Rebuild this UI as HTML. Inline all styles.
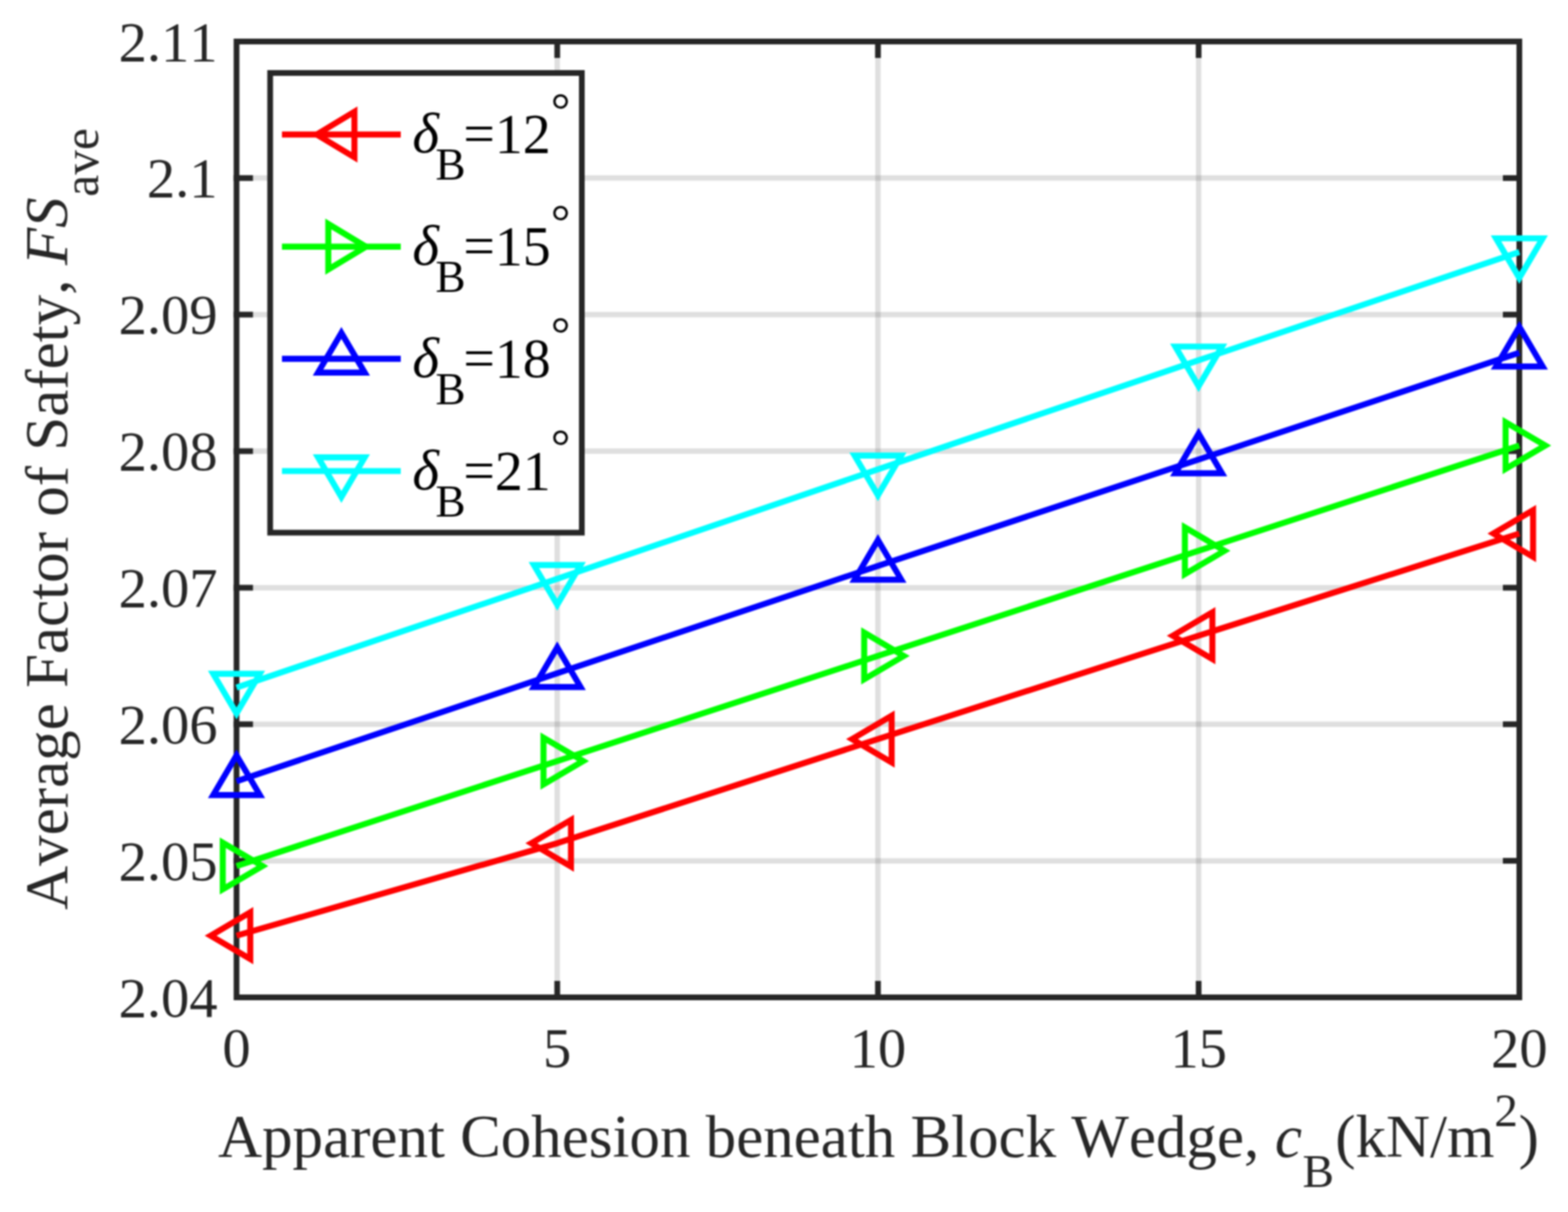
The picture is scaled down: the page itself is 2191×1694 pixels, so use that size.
<!DOCTYPE html>
<html><head><meta charset="utf-8"><title>Average Factor of Safety vs Apparent Cohesion</title><style>html,body{margin:0;padding:0;background:#fff;overflow:hidden;}svg{display:block;} text{font-kerning:none;}</style></head><body>
<svg width="2191" height="1694" viewBox="0 0 2191 1694">
<defs><filter id="soft" x="-2%" y="-2%" width="104%" height="104%" color-interpolation-filters="sRGB"><feGaussianBlur stdDeviation="1.2"/></filter></defs>
<rect width="2191" height="1694" fill="#ffffff"/>
<g filter="url(#soft)">
<g stroke="#262626" stroke-opacity="0.15" stroke-width="7.5"><line x1="778.62" y1="58.00" x2="778.62" y2="1394.00"/><line x1="1226.75" y1="58.00" x2="1226.75" y2="1394.00"/><line x1="1674.88" y1="58.00" x2="1674.88" y2="1394.00"/><line x1="330.50" y1="1203.14" x2="2123.00" y2="1203.14"/><line x1="330.50" y1="1012.29" x2="2123.00" y2="1012.29"/><line x1="330.50" y1="821.43" x2="2123.00" y2="821.43"/><line x1="330.50" y1="630.57" x2="2123.00" y2="630.57"/><line x1="330.50" y1="439.71" x2="2123.00" y2="439.71"/><line x1="330.50" y1="248.86" x2="2123.00" y2="248.86"/></g>
<g stroke="#262626" stroke-width="8.0" stroke-linecap="square"><rect x="330.50" y="58.00" width="1792.50" height="1336.00" fill="none"/><line x1="778.62" y1="1394.00" x2="778.62" y2="1375.00"/><line x1="778.62" y1="58.00" x2="778.62" y2="77.00"/><line x1="1226.75" y1="1394.00" x2="1226.75" y2="1375.00"/><line x1="1226.75" y1="58.00" x2="1226.75" y2="77.00"/><line x1="1674.88" y1="1394.00" x2="1674.88" y2="1375.00"/><line x1="1674.88" y1="58.00" x2="1674.88" y2="77.00"/><line x1="330.50" y1="1203.14" x2="349.50" y2="1203.14"/><line x1="2123.00" y1="1203.14" x2="2104.00" y2="1203.14"/><line x1="330.50" y1="1012.29" x2="349.50" y2="1012.29"/><line x1="2123.00" y1="1012.29" x2="2104.00" y2="1012.29"/><line x1="330.50" y1="821.43" x2="349.50" y2="821.43"/><line x1="2123.00" y1="821.43" x2="2104.00" y2="821.43"/><line x1="330.50" y1="630.57" x2="349.50" y2="630.57"/><line x1="2123.00" y1="630.57" x2="2104.00" y2="630.57"/><line x1="330.50" y1="439.71" x2="349.50" y2="439.71"/><line x1="2123.00" y1="439.71" x2="2104.00" y2="439.71"/><line x1="330.50" y1="248.86" x2="349.50" y2="248.86"/><line x1="2123.00" y1="248.86" x2="2104.00" y2="248.86"/></g>
<polyline points="330.50,1307.80 778.62,1178.60 1226.75,1033.00 1674.88,888.50 2123.00,745.70" fill="none" stroke="#ff0000" stroke-width="8.4" stroke-linejoin="round"/>
<polygon points="294.30,1307.80 349.70,1275.20 349.70,1340.40" fill="none" stroke="#ff0000" stroke-width="8.4" stroke-linejoin="miter"/>
<polygon points="742.42,1178.60 797.83,1146.00 797.83,1211.20" fill="none" stroke="#ff0000" stroke-width="8.4" stroke-linejoin="miter"/>
<polygon points="1190.55,1033.00 1245.95,1000.40 1245.95,1065.60" fill="none" stroke="#ff0000" stroke-width="8.4" stroke-linejoin="miter"/>
<polygon points="1638.67,888.50 1694.08,855.90 1694.08,921.10" fill="none" stroke="#ff0000" stroke-width="8.4" stroke-linejoin="miter"/>
<polygon points="2086.80,745.70 2142.20,713.10 2142.20,778.30" fill="none" stroke="#ff0000" stroke-width="8.4" stroke-linejoin="miter"/>
<polyline points="330.50,1210.40 778.62,1063.70 1226.75,916.80 1674.88,769.80 2123.00,622.70" fill="none" stroke="#00ff00" stroke-width="8.4" stroke-linejoin="round"/>
<polygon points="366.70,1210.40 311.30,1177.80 311.30,1243.00" fill="none" stroke="#00ff00" stroke-width="8.4" stroke-linejoin="miter"/>
<polygon points="814.83,1063.70 759.42,1031.10 759.42,1096.30" fill="none" stroke="#00ff00" stroke-width="8.4" stroke-linejoin="miter"/>
<polygon points="1262.95,916.80 1207.55,884.20 1207.55,949.40" fill="none" stroke="#00ff00" stroke-width="8.4" stroke-linejoin="miter"/>
<polygon points="1711.08,769.80 1655.67,737.20 1655.67,802.40" fill="none" stroke="#00ff00" stroke-width="8.4" stroke-linejoin="miter"/>
<polygon points="2159.20,622.70 2103.80,590.10 2103.80,655.30" fill="none" stroke="#00ff00" stroke-width="8.4" stroke-linejoin="miter"/>
<polyline points="330.50,1092.00 778.62,941.00 1226.75,791.00 1674.88,642.30 2123.00,493.00" fill="none" stroke="#0000ff" stroke-width="8.4" stroke-linejoin="round"/>
<polygon points="330.50,1055.80 297.90,1111.20 363.10,1111.20" fill="none" stroke="#0000ff" stroke-width="8.4" stroke-linejoin="miter"/>
<polygon points="778.62,904.80 746.02,960.20 811.23,960.20" fill="none" stroke="#0000ff" stroke-width="8.4" stroke-linejoin="miter"/>
<polygon points="1226.75,754.80 1194.15,810.20 1259.35,810.20" fill="none" stroke="#0000ff" stroke-width="8.4" stroke-linejoin="miter"/>
<polygon points="1674.88,606.10 1642.28,661.50 1707.47,661.50" fill="none" stroke="#0000ff" stroke-width="8.4" stroke-linejoin="miter"/>
<polygon points="2123.00,456.80 2090.40,512.20 2155.60,512.20" fill="none" stroke="#0000ff" stroke-width="8.4" stroke-linejoin="miter"/>
<polyline points="330.50,961.00 778.62,809.00 1226.75,656.00 1674.88,503.60 2123.00,352.30" fill="none" stroke="#00ffff" stroke-width="8.4" stroke-linejoin="round"/>
<polygon points="330.50,997.20 297.90,941.80 363.10,941.80" fill="none" stroke="#00ffff" stroke-width="8.4" stroke-linejoin="miter"/>
<polygon points="778.62,845.20 746.02,789.80 811.23,789.80" fill="none" stroke="#00ffff" stroke-width="8.4" stroke-linejoin="miter"/>
<polygon points="1226.75,692.20 1194.15,636.80 1259.35,636.80" fill="none" stroke="#00ffff" stroke-width="8.4" stroke-linejoin="miter"/>
<polygon points="1674.88,539.80 1642.28,484.40 1707.47,484.40" fill="none" stroke="#00ffff" stroke-width="8.4" stroke-linejoin="miter"/>
<polygon points="2123.00,388.50 2090.40,333.10 2155.60,333.10" fill="none" stroke="#00ffff" stroke-width="8.4" stroke-linejoin="miter"/>
<g font-family="'Liberation Serif', 'Times New Roman', serif" font-size="79" fill="#262626">
<text x="304" y="1420.50" text-anchor="end">2.04</text>
<text x="304" y="1229.64" text-anchor="end">2.05</text>
<text x="304" y="1038.79" text-anchor="end">2.06</text>
<text x="304" y="847.93" text-anchor="end">2.07</text>
<text x="304" y="657.07" text-anchor="end">2.08</text>
<text x="304" y="466.21" text-anchor="end">2.09</text>
<text x="304" y="275.36" text-anchor="end">2.1</text>
<text x="304" y="84.50" text-anchor="end">2.11</text>
<text x="330.50" y="1490.5" text-anchor="middle">0</text>
<text x="778.62" y="1490.5" text-anchor="middle">5</text>
<text x="1226.75" y="1490.5" text-anchor="middle">10</text>
<text x="1674.88" y="1490.5" text-anchor="middle">15</text>
<text x="2123.00" y="1490.5" text-anchor="middle">20</text>
</g>
<text y="1617" font-family="'Liberation Serif', 'Times New Roman', serif" font-size="85.2" fill="#262626"><tspan x="304.7">Apparent Cohesion beneath Block Wedge,</tspan><tspan x="1781.4" font-style="italic">c</tspan><tspan x="1820.1" y="1658.5" font-size="66">B</tspan><tspan x="1865.8" y="1617">(kN/m</tspan><tspan x="2088.1" y="1573.5" font-size="66">2</tspan><tspan x="2121.9" y="1617">)</tspan></text>
<text transform="translate(94.0,0) rotate(-90)" y="0" font-family="'Liberation Serif', 'Times New Roman', serif" font-size="85.3" fill="#262626"><tspan x="-1271.8">Average Factor of Safety,</tspan><tspan x="-370.5" font-style="italic">FS</tspan><tspan x="-274.9" y="43" font-size="69">ave</tspan></text>
<rect x="377.50" y="102.00" width="435.50" height="642.50" fill="#ffffff" stroke="#262626" stroke-width="8.0"/>
<line x1="394" y1="188.00" x2="560" y2="188.00" stroke="#ff0000" stroke-width="8.4"/>
<polygon points="442.50,188.00 495.25,156.25 495.25,219.75" fill="none" stroke="#ff0000" stroke-width="8.4" stroke-linejoin="miter"/>
<text y="213.30" font-family="'Liberation Serif', 'Times New Roman', serif" font-size="78" fill="#000"><tspan x="576.2" font-size="80" font-style="italic">δ</tspan><tspan x="608.5" y="251.30" font-size="63">B</tspan><tspan x="647.6" y="213.30">=12</tspan><tspan x="769.7" y="176.60" font-size="68">°</tspan></text>
<line x1="394" y1="344.80" x2="560" y2="344.80" stroke="#00ff00" stroke-width="8.4"/>
<polygon points="511.50,344.80 458.75,313.05 458.75,376.55" fill="none" stroke="#00ff00" stroke-width="8.4" stroke-linejoin="miter"/>
<text y="370.10" font-family="'Liberation Serif', 'Times New Roman', serif" font-size="78" fill="#000"><tspan x="576.2" font-size="80" font-style="italic">δ</tspan><tspan x="608.5" y="408.10" font-size="63">B</tspan><tspan x="647.6" y="370.10">=15</tspan><tspan x="769.7" y="333.40" font-size="68">°</tspan></text>
<line x1="394" y1="501.50" x2="560" y2="501.50" stroke="#0000ff" stroke-width="8.4"/>
<polygon points="477.00,465.30 444.40,520.70 509.60,520.70" fill="none" stroke="#0000ff" stroke-width="8.4" stroke-linejoin="miter"/>
<text y="526.80" font-family="'Liberation Serif', 'Times New Roman', serif" font-size="78" fill="#000"><tspan x="576.2" font-size="80" font-style="italic">δ</tspan><tspan x="608.5" y="564.80" font-size="63">B</tspan><tspan x="647.6" y="526.80">=18</tspan><tspan x="769.7" y="490.10" font-size="68">°</tspan></text>
<line x1="394" y1="658.40" x2="560" y2="658.40" stroke="#00ffff" stroke-width="8.4"/>
<polygon points="477.00,694.60 444.40,639.20 509.60,639.20" fill="none" stroke="#00ffff" stroke-width="8.4" stroke-linejoin="miter"/>
<text y="683.70" font-family="'Liberation Serif', 'Times New Roman', serif" font-size="78" fill="#000"><tspan x="576.2" font-size="80" font-style="italic">δ</tspan><tspan x="608.5" y="721.70" font-size="63">B</tspan><tspan x="647.6" y="683.70">=21</tspan><tspan x="769.7" y="647.00" font-size="68">°</tspan></text>
</g>
</svg>
</body></html>
